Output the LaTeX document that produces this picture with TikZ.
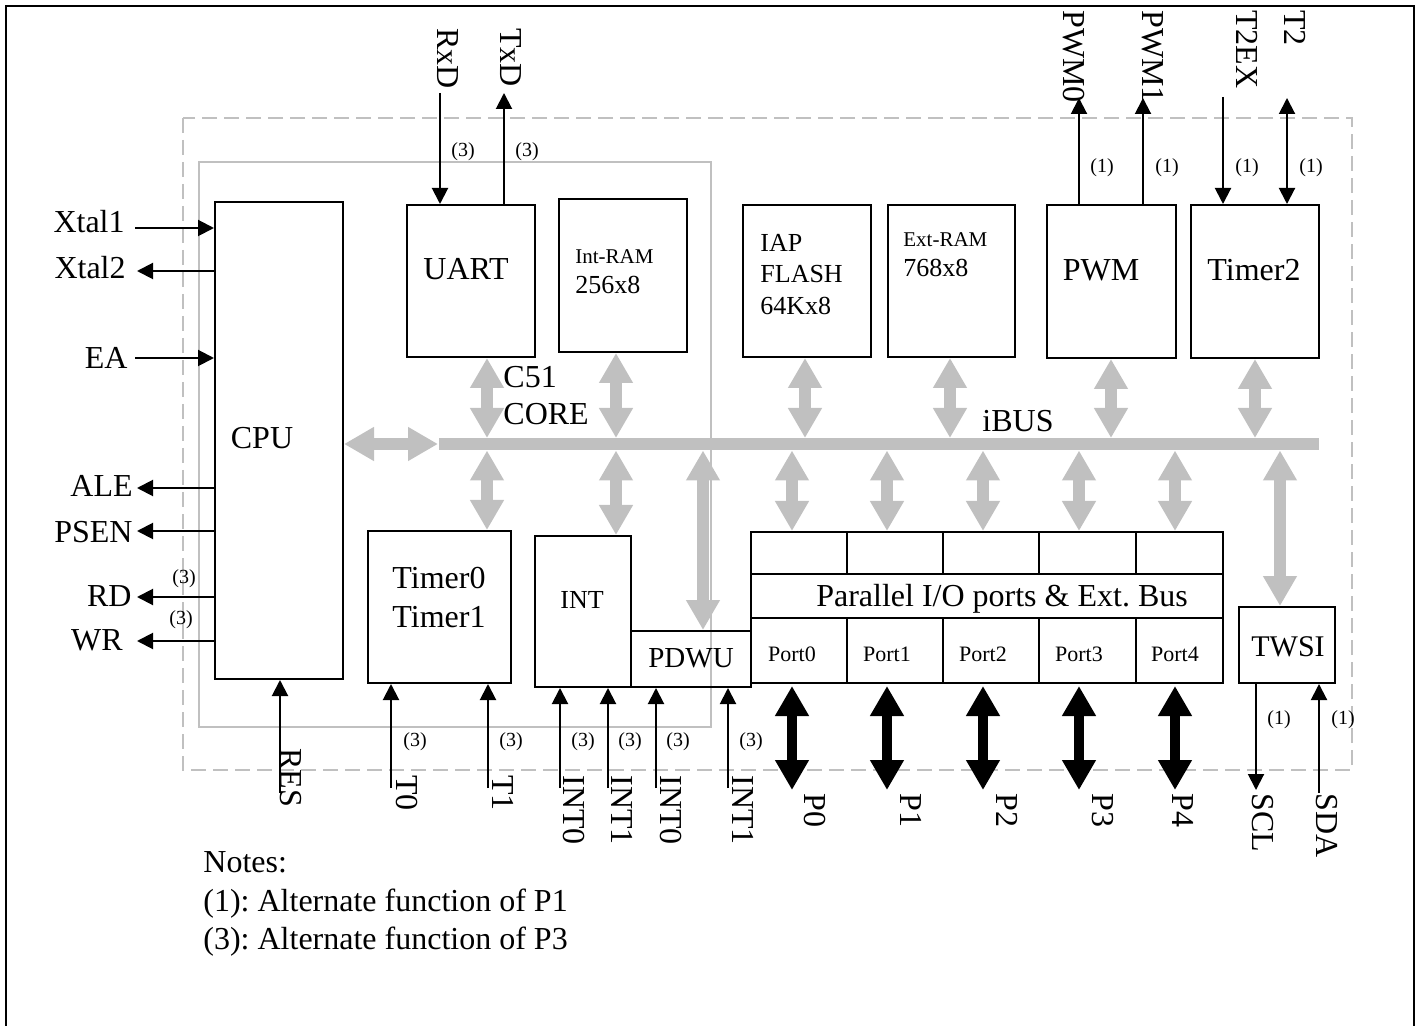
\documentclass[tikz,border=0pt]{standalone}
\usepackage{fontspec}
\setmainfont{Liberation Serif}
\usetikzlibrary{arrows.meta}
\definecolor{gry}{HTML}{C0C0C0}
\frenchspacing
\newcommand{\fmain}{\fontsize{16}{19}\selectfont}
\newcommand{\fmid}{\fontsize{13}{15}\selectfont}
\newcommand{\fsml}{\fontsize{10.5}{12}\selectfont}
\newcommand{\fnum}{\fontsize{10}{12}\selectfont}
\newcommand{\fport}{\fontsize{11}{13}\selectfont}
\begin{document}
\begin{tikzpicture}[x=0.5pt,y=-0.5pt,
  box/.style={draw, line width=1pt, inner sep=0pt},
  lbl/.style={inner sep=0pt, font=\fmain},
  rl/.style={lbl, rotate=-90, anchor=west},
  num/.style={inner sep=0pt, font=\fnum},
  arr/.style={line width=1pt, -{Triangle[length=8pt,width=8pt]}},
  darr/.style={line width=1pt, {Triangle[length=8pt,width=8pt]}-{Triangle[length=8pt,width=8pt]}},
  gar/.style={draw=gry, line width=6.3pt, >={Triangle[length=15pt,width=16pt]}, <->},
  bar/.style={draw=black, line width=5pt, >={Triangle[length=15pt,width=16pt]}, <->}]
\useasboundingbox (0,0) rectangle (1419,1026);
% outer frame
\draw[line width=1pt] (6,1026) -- (6,6) -- (1414,6) -- (1414,1026);
% dashed chip outline and C51 core outline
\draw[gry, line width=1pt, dash pattern=on 7.5pt off 3.5pt] (183,118) rectangle (1352,770);
\draw[gry, line width=0.8pt] (199,162) rectangle (711,727);

% blocks
\node[box, minimum width=64pt, minimum height=238.5pt] (cpu) at (279,440.5) {};
\node[box, minimum width=64pt, minimum height=76pt] (uart) at (471,281) {};
\node[box, minimum width=64pt, minimum height=76.5pt] (intram) at (623,275.5) {};
\node[box, minimum width=64pt, minimum height=76pt] (iap) at (807,281) {};
\node[box, minimum width=63.5pt, minimum height=76pt] (extram) at (951.5,281) {};
\node[box, minimum width=64.5pt, minimum height=76.5pt] (pwm) at (1111.5,281.5) {};
\node[box, minimum width=64pt, minimum height=76.5pt] (timer2) at (1255,281.5) {};
\node[box, minimum width=71.5pt, minimum height=76pt] (timer01) at (439.5,607) {};
\node[box, minimum width=48pt, minimum height=75.5pt] (int) at (583,611.5) {};
\node[box, minimum width=60pt, minimum height=28pt] (pdwu) at (691,659) {};
\node[box, minimum width=48pt, minimum height=38pt] (twsi) at (1287,645) {};
% parallel I/O block
\node[box, minimum width=48pt, minimum height=21pt] (c0) at (799,553) {};
\node[box, minimum width=48pt, minimum height=21pt] (c1) at (895,553) {};
\node[box, minimum width=48pt, minimum height=21pt] (c2) at (991,553) {};
\node[box, minimum width=48.5pt, minimum height=21pt] (c3) at (1087.5,553) {};
\node[box, minimum width=43.5pt, minimum height=21pt] (c4) at (1179.5,553) {};
\node[box, minimum width=236pt, minimum height=22pt] (pio) at (987,596) {};
\node[box, minimum width=48pt, minimum height=32.5pt] (p0) at (799,650.5) {};
\node[box, minimum width=48pt, minimum height=32.5pt] (p1) at (895,650.5) {};
\node[box, minimum width=48pt, minimum height=32.5pt] (p2) at (991,650.5) {};
\node[box, minimum width=48.5pt, minimum height=32.5pt] (p3) at (1087.5,650.5) {};
\node[box, minimum width=43.5pt, minimum height=32.5pt] (p4) at (1179.5,650.5) {};

% block texts
\node[lbl] (tcpu) at (262,438) {CPU};
\node[lbl] (tuart) at (466,269) {UART};
\node[inner sep=0pt, font=\fsml, anchor=west] (tintram) at (575,257) {Int-RAM};
\node[inner sep=0pt, font=\fmid, anchor=west] (tintram2) at (575,285) {256x8};
\node[inner sep=0pt, font=\fmid, anchor=west] (tiap1) at (760,243) {IAP};
\node[inner sep=0pt, font=\fmid, anchor=west] (tiap2) at (760,274) {FLASH};
\node[inner sep=0pt, font=\fmid, anchor=west] (tiap3) at (760,306) {64Kx8};
\node[inner sep=0pt, font=\fsml, anchor=west] (text1) at (903,240) {Ext-RAM};
\node[inner sep=0pt, font=\fmid, anchor=west] (text2) at (903,268) {768x8};
\node[lbl] (tpwm) at (1101,270) {PWM};
\node[lbl] (ttimer2) at (1254,270) {Timer2};
\node[lbl, anchor=west] (tc51) at (503,377) {C51};
\node[lbl, anchor=west] (tcore) at (503,414) {CORE};
\node[lbl] (tibus) at (1018,421) {iBUS};
\node[lbl] (tt0) at (439,578) {Timer0};
\node[lbl] (tt1) at (439,617) {Timer1};
\node[inner sep=0pt, font=\fontsize{13}{15}\selectfont] (tint) at (582,600) {INT};
\node[inner sep=0pt, font=\fontsize{14.5}{17}\selectfont] (tpdwu) at (691,658) {PDWU};
\node[inner sep=0pt, font=\fontsize{15}{18}\selectfont] (ttwsi) at (1288,647) {TWSI};
\node[lbl, anchor=base] (tpio) at (1002,606) {Parallel I/O ports \& Ext. Bus};
\node[inner sep=0pt, font=\fport] (tp0) at (792,654) {Port0};
\node[inner sep=0pt, font=\fport] (tp1) at (887,654) {Port1};
\node[inner sep=0pt, font=\fport] (tp2) at (983,654) {Port2};
\node[inner sep=0pt, font=\fport] (tp3) at (1079,654) {Port3};
\node[inner sep=0pt, font=\fport] (tp4) at (1175,654) {Port4};

% iBUS
\coordinate (busL) at (439,444);
\coordinate (busR) at (1319,444);
\coordinate (busT) at (0,438);
\coordinate (busB) at (0,450.5);
\draw[gry, line width=6.3pt] (busL) -- (busR);
\draw[gar] (cpu.east |- busL) -- ([xshift=-0.5]busL);

\coordinate (xU) at (487,0);
\coordinate (xR) at (616,0);
\coordinate (xI) at (805,0);
\coordinate (xE) at (950,0);
\coordinate (xP) at (1111,0);
\coordinate (xT) at (1255,0);
\coordinate (xD) at (703,0);
\coordinate (xW) at (1280,0);
\coordinate (xp0) at (792,0);
\coordinate (xp1) at (887,0);
\coordinate (xp2) at (983,0);
\coordinate (xp3) at (1079,0);
\coordinate (xp4) at (1175,0);

\draw[gar] (xU |- uart.south) -- (xU |- busT);
\draw[gar] (xU |- busB) -- (xU |- timer01.north);
\draw[gar] (xR |- intram.south) -- (xR |- busT);
\draw[gar] (xR |- busB) -- (xR |- int.north);
\draw[gar] (xI |- iap.south) -- (xI |- busT);
\draw[gar] (xE |- extram.south) -- (xE |- busT);
\draw[gar] (xP |- pwm.south) -- (xP |- busT);
\draw[gar] (xT |- timer2.south) -- (xT |- busT);
\draw[gar] (xD |- busB) -- (xD |- pdwu.north);
\draw[gar] (xW |- busB) -- (xW |- twsi.north);
\draw[gar] (xp0 |- busB) -- (xp0 |- c0.north);
\draw[gar] (xp1 |- busB) -- (xp1 |- c1.north);
\draw[gar] (xp2 |- busB) -- (xp2 |- c2.north);
\draw[gar] (xp3 |- busB) -- (xp3 |- c3.north);
\draw[gar] (xp4 |- busB) -- (xp4 |- c4.north);

% black port arrows
\coordinate (pbot) at (0,790);
\coordinate (ptop) at (0,686);
\draw[bar] (xp0 |- ptop) -- (xp0 |- pbot);
\draw[bar] (xp1 |- ptop) -- (xp1 |- pbot);
\draw[bar] (xp2 |- ptop) -- (xp2 |- pbot);
\draw[bar] (xp3 |- ptop) -- (xp3 |- pbot);
\draw[bar] (xp4 |- ptop) -- (xp4 |- pbot);
\node[rl] (lp0) at (815,793) {P0};
\node[rl] (lp1) at (911,793) {P1};
\node[rl] (lp2) at (1007,793) {P2};
\node[rl] (lp3) at (1103,793) {P3};
\node[rl] (lp4) at (1183,793) {P4};

% top signals
\coordinate (rxdT) at (440,93);
\coordinate (txdT) at (504,93);
\coordinate (pwm0T) at (1079,98);
\coordinate (pwm1T) at (1143,98);
\coordinate (t2exT) at (1223,97);
\coordinate (t2T) at (1287,98);
\draw[arr] (rxdT) -- (rxdT |- uart.north);
\draw[arr] (txdT |- uart.north) -- (txdT);
\draw[arr] (pwm0T |- pwm.north) -- (pwm0T);
\draw[arr] (pwm1T |- pwm.north) -- (pwm1T);
\draw[arr] (t2exT) -- (t2exT |- timer2.north);
\draw[darr] (t2T) -- (t2T |- timer2.north);
\node[rl] (lrxd) at (448,28) {RxD};
\node[rl] (ltxd) at (511,28) {TxD};
\node[rl] (lpwm0) at (1074,10) {PWM0};
\node[rl] (lpwm1) at (1153,10) {PWM1};
\node[rl] (lt2ex) at (1247,10) {T2EX};
\node[rl] (lt2) at (1295,10) {T2};
\node[num] (n1) at (463,152) {(3)};
\node[num] (n2) at (527,152) {(3)};
\node[num] (n3) at (1102,168) {(1)};
\node[num] (n4) at (1167,168) {(1)};
\node[num] (n5) at (1247,168) {(1)};
\node[num] (n6) at (1311,168) {(1)};

% left signals
\coordinate (xtal1L) at (135,228);
\coordinate (xtal2L) at (137,271);
\coordinate (eaL) at (135,358);
\coordinate (aleL) at (137,488);
\coordinate (psenL) at (137,531);
\coordinate (rdL) at (137,597);
\coordinate (wrL) at (137,641);
\draw[arr] (xtal1L) -- (xtal1L -| cpu.west);
\draw[arr] (xtal2L -| cpu.west) -- (xtal2L);
\draw[arr] (eaL) -- (eaL -| cpu.west);
\draw[arr] (aleL -| cpu.west) -- (aleL);
\draw[arr] (psenL -| cpu.west) -- (psenL);
\draw[arr] (rdL -| cpu.west) -- (rdL);
\draw[arr] (wrL -| cpu.west) -- (wrL);
\node[lbl, anchor=east] (lxtal1) at (125,222) {Xtal1};
\node[lbl, anchor=east] (lxtal2) at (126,268) {Xtal2};
\node[lbl, anchor=east] (lea) at (128,358) {EA};
\node[lbl, anchor=east] (lale) at (133,486) {ALE};
\node[lbl, anchor=east] (lpsen) at (133,532) {PSEN};
\node[lbl, anchor=east] (lrd) at (132,596) {RD};
\node[lbl, anchor=east] (lwr) at (123,640) {WR};
\node[num] (n7) at (184,579) {(3)};
\node[num] (n8) at (181,620) {(3)};

% bottom signals
\coordinate (resB) at (280,793);
\coordinate (t0B) at (391,788);
\coordinate (t1B) at (488,788);
\coordinate (i0B) at (560,788);
\coordinate (i1B) at (608,788);
\coordinate (i2B) at (656,788);
\coordinate (i3B) at (728,788);
\draw[arr] (resB) -- (resB |- cpu.south);
\draw[arr] (t0B) -- (t0B |- timer01.south);
\draw[arr] (t1B) -- (t1B |- timer01.south);
\draw[arr] (i0B) -- (i0B |- int.south);
\draw[arr] (i1B) -- (i1B |- int.south);
\draw[arr] (i2B) -- (i2B |- pdwu.south);
\draw[arr] (i3B) -- (i3B |- pdwu.south);
\node[rl] (lres) at (291,748) {RES};
\node[rl] (lt0) at (407,775) {T0};
\node[rl] (lt1) at (503,775) {T1};
\node[rl] (lint0) at (574,775) {INT0};
\node[rl] (lint1) at (622,775) {INT1};
\node[rl] (lint0b) at (671,775) {INT0};
\node[rl] (lint1b) at (743,775) {INT1};
\node[num] (n9) at (415,742) {(3)};
\node[num] (n10) at (511,742) {(3)};
\node[num] (n11) at (583,742) {(3)};
\node[num] (n12) at (630,742) {(3)};
\node[num] (n13) at (678,742) {(3)};
\node[num] (n14) at (751,742) {(3)};

% TWSI signals
\coordinate (sclB) at (1256,790);
\coordinate (sdaB) at (1319,793);
\draw[arr] (sclB |- twsi.south) -- (sclB);
\draw[arr] (sdaB) -- (sdaB |- twsi.south);
\node[rl] (lscl) at (1263,793) {SCL};
\node[rl] (lsda) at (1327,793) {SDA};
\node[num] (n15) at (1279,720) {(1)};
\node[num] (n16) at (1343,720) {(1)};

% notes
\node[lbl, anchor=base west] (notes) at (203,872) {Notes:};
\node[lbl, anchor=base west] (note1) at (203,911) {(1): Alternate function of P1};
\node[lbl, anchor=base west] (note3) at (203,949) {(3): Alternate function of P3};
\end{tikzpicture}
\end{document}
